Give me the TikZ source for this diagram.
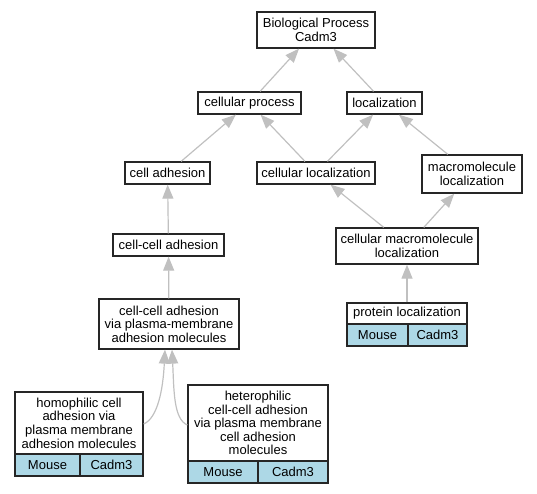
\documentclass[tikz,border=0pt]{standalone}
\usepackage{fontspec}
\setmainfont{Liberation Sans}
\usetikzlibrary{arrows.meta}
\definecolor{tagblue}{HTML}{ADD8E6}
\definecolor{edgegray}{HTML}{C0C0C0}
\tikzset{
  box/.style={draw=black!85, line width=1.3pt, fill=white, inner sep=0pt, align=center,
              font=\fontsize{13}{13.6}\selectfont, anchor=center},
  tag/.style={box, fill=tagblue},
  edge/.style={draw=edgegray, line width=1.2pt, -{Triangle[length=14pt,width=11pt]}},
}
\begin{document}
\begin{tikzpicture}[x=1pt,y=-1pt]
\useasboundingbox (0,0) rectangle (537,493);
% nodes
\node[box, minimum width=118pt, minimum height=36pt] (bp) at (316,30) {Biological Process\\Cadm3};
\node[box, minimum width=103pt, minimum height=22pt] (cp) at (249.5,103) {cellular process};
\node[box, minimum width=75pt, minimum height=22pt] (loc) at (384.5,103) {localization};
\node[box, minimum width=85pt, minimum height=22pt] (ca) at (167.5,173) {cell adhesion};
\node[box, minimum width=118pt, minimum height=22pt] (cl) at (316,173) {cellular localization};
\node[box, minimum width=100pt, minimum height=38pt] (ml) at (472,174) {macromolecule\\localization};
\node[box, minimum width=111pt, minimum height=22pt] (cca) at (168.5,245) {cell-cell adhesion};
\node[box, minimum width=142pt, minimum height=36pt] (cmc) at (407,246) {cellular macromolecule\\localization};
\node[box, minimum width=140pt, minimum height=50pt] (ccapm) at (169,324) {cell-cell adhesion\\via plasma-membrane\\adhesion molecules};
\node[box, minimum width=120pt, minimum height=21pt] (pl) at (407,313.5) {protein localization};
\node[tag, minimum width=61pt, minimum height=22pt] (plA) at (377.5,335) {Mouse};
\node[tag, minimum width=59pt, minimum height=22pt] (plB) at (437.5,335) {Cadm3};
\node[box, minimum width=128pt, minimum height=62pt] (homo) at (79,423) {homophilic cell\\adhesion via\\plasma membrane\\adhesion molecules};
\node[tag, minimum width=65pt, minimum height=22pt] (homoA) at (47.5,465) {Mouse};
\node[tag, minimum width=63pt, minimum height=22pt] (homoB) at (111.5,465) {Cadm3};
\node[box, minimum width=140pt, minimum height=76pt] (hetero) at (258,423) {heterophilic\\cell-cell adhesion\\via plasma membrane\\cell adhesion\\molecules};
\node[tag, minimum width=70pt, minimum height=22pt] (heteroA) at (223,472) {Mouse};
\node[tag, minimum width=70pt, minimum height=22pt] (heteroB) at (293,472) {Cadm3};
% edges
\draw[edge] (cp) -- (bp);
\draw[edge] (loc) -- (bp);
\draw[edge] (ca) -- (cp);
\draw[edge] (cl) -- (cp);
\draw[edge] (cl) -- (loc);
\draw[edge] (ml) -- (loc);
\draw[edge] (cca) -- (ca);
\draw[edge] (cmc) -- (cl);
\draw[edge] (cmc) -- (ml);
\draw[edge] (pl) -- (cmc);
\draw[edge] (ccapm) -- (cca);
\draw[edge] ([yshift=-1pt]homo.east) .. controls +(14,-6) and +(-2,40) .. ([xshift=-4pt]ccapm.south);
\draw[edge] ([yshift=-2pt]hetero.west) .. controls +(-14,-6) and +(2,40) .. ([xshift=3pt]ccapm.south);
\end{tikzpicture}
\end{document}
